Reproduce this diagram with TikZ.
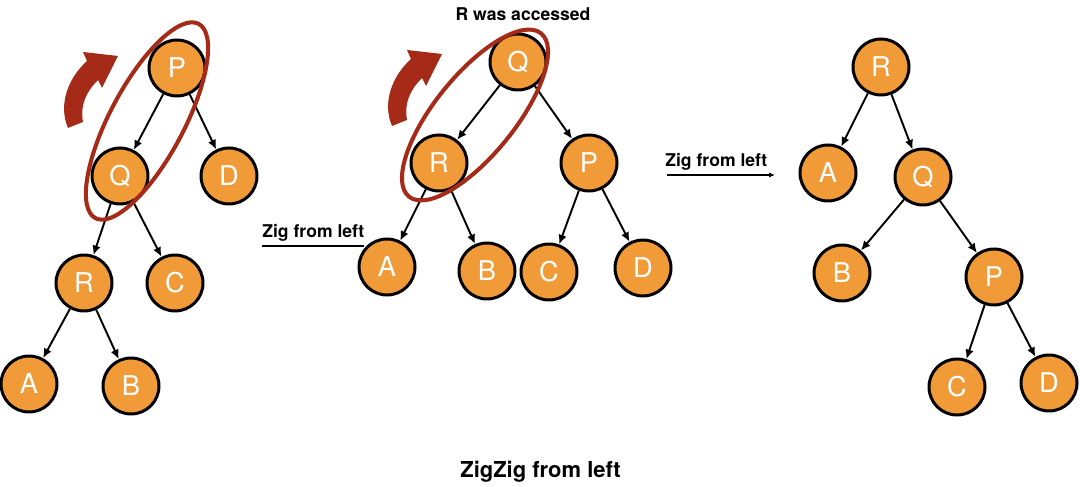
\documentclass[tikz,border=0pt]{standalone}
\usepackage{fontspec}
\setmainfont{TeX Gyre Heros}
\usetikzlibrary{arrows.meta}
\definecolor{cnode}{RGB}{240,154,56}
\definecolor{cturn}{RGB}{165,42,24}
\newcommand{\turnarrow}[2]{\fill[cturn,shift={(#1,#2)}] (0,0) .. controls (-0.2,0.46) and (0,1) .. (0.38,1.34) -- (0.3,1.52) -- (1,1.44) -- (0.68,0.8) -- (0.6,0.96) .. controls (0.36,0.72) and (0.24,0.46) .. (0.3,0.12) -- cycle;}

\begin{document}
\begin{tikzpicture}[
  vert/.style={circle,draw,line width=1.7pt,fill=cnode,minimum size=1.12cm,inner sep=0pt,text=white,font=\fontsize{15.5}{17}\selectfont},
  edge/.style={line width=1.1pt,-{Latex[length=1.9mm,width=1.7mm]}},
  lab/.style={font=\fontsize{10}{12}\selectfont\bfseries,inner sep=0pt},
  ring/.style={draw=cturn,line width=2.3pt}]

\useasboundingbox (0,0) rectangle (21.6,-9.74);

% first tree
\node[vert] (P1) at (3.54,-1.36) {P};
\node[vert] (Q1) at (2.40,-3.52) {Q};
\node[vert] (D1) at (4.58,-3.52) {D};
\node[vert] (R1) at (1.68,-5.66) {R};
\node[vert] (C1) at (3.50,-5.66) {C};
\node[vert] (A1) at (0.58,-7.68) {A};
\node[vert] (B1) at (2.62,-7.72) {B};

\draw[edge] (P1) -- (Q1);
\draw[edge] (P1) -- (D1);
\draw[edge] (Q1) -- (R1);
\draw[edge] (Q1) -- (C1);
\draw[edge] (R1) -- (A1);
\draw[edge] (R1) -- (B1);

\draw[ring,rotate around={62:(2.94,-2.42)}] (2.94,-2.42) ellipse [x radius=2.2cm,y radius=0.74cm];
\turnarrow{1.36}{-2.56}

% second tree
\node[vert] (Q2) at (10.36,-1.24) {Q};
\node[vert] (R2) at (8.78,-3.26) {R};
\node[vert] (P2) at (11.78,-3.26) {P};
\node[vert] (A2) at (7.74,-5.34) {A};
\node[vert] (B2) at (9.74,-5.42) {B};
\node[vert] (C2) at (10.98,-5.44) {C};
\node[vert] (D2) at (12.86,-5.36) {D};

\draw[edge] (Q2) -- (R2);
\draw[edge] (Q2) -- (P2);
\draw[edge] (R2) -- (A2);
\draw[edge] (R2) -- (B2);
\draw[edge] (P2) -- (C2);
\draw[edge] (P2) -- (D2);

\draw[ring,rotate around={51:(9.50,-2.30)}] (9.50,-2.30) ellipse [x radius=2.1cm,y radius=0.8cm];
\turnarrow{7.84}{-2.52}

\node[lab,anchor=base] (acc) at (10.46,-0.42) {R was accessed};
\node[lab,anchor=base west] (zig1) at (5.24,-4.76) {Zig from left};
\coordinate (zig1a) at (5.24,-4.92);
\coordinate (zig1b) at (7.28,-4.92);
\draw[line width=0.6pt] (zig1a) -- (zig1b);

% third tree
\node[vert] (R3) at (17.62,-1.34) {R};
\node[vert] (A3) at (16.56,-3.46) {A};
\node[vert] (Q3) at (18.46,-3.54) {Q};
\node[vert] (B3) at (16.84,-5.46) {B};
\node[vert] (P3) at (19.88,-5.54) {P};
\node[vert] (C3) at (19.14,-7.74) {C};
\node[vert] (D3) at (20.98,-7.66) {D};

\draw[edge] (R3) -- (A3);
\draw[edge] (R3) -- (Q3);
\draw[edge] (Q3) -- (B3);
\draw[edge] (Q3) -- (P3);
\draw[edge] (P3) -- (C3);
\draw[edge] (P3) -- (D3);

\node[lab,anchor=base west] (zig2) at (13.30,-3.34) {Zig from left};
\coordinate (zig2a) at (13.34,-3.50);
\coordinate (zig2b) at (15.50,-3.50);
\draw[line width=0.6pt,-{Latex[length=1.2mm,width=1mm]}] (zig2a) -- (zig2b);

% caption
\node[lab,anchor=base,font=\fontsize{12.5}{15}\selectfont\bfseries] (cap) at (10.81,-9.55) {ZigZig from left};

\end{tikzpicture}
\end{document}
